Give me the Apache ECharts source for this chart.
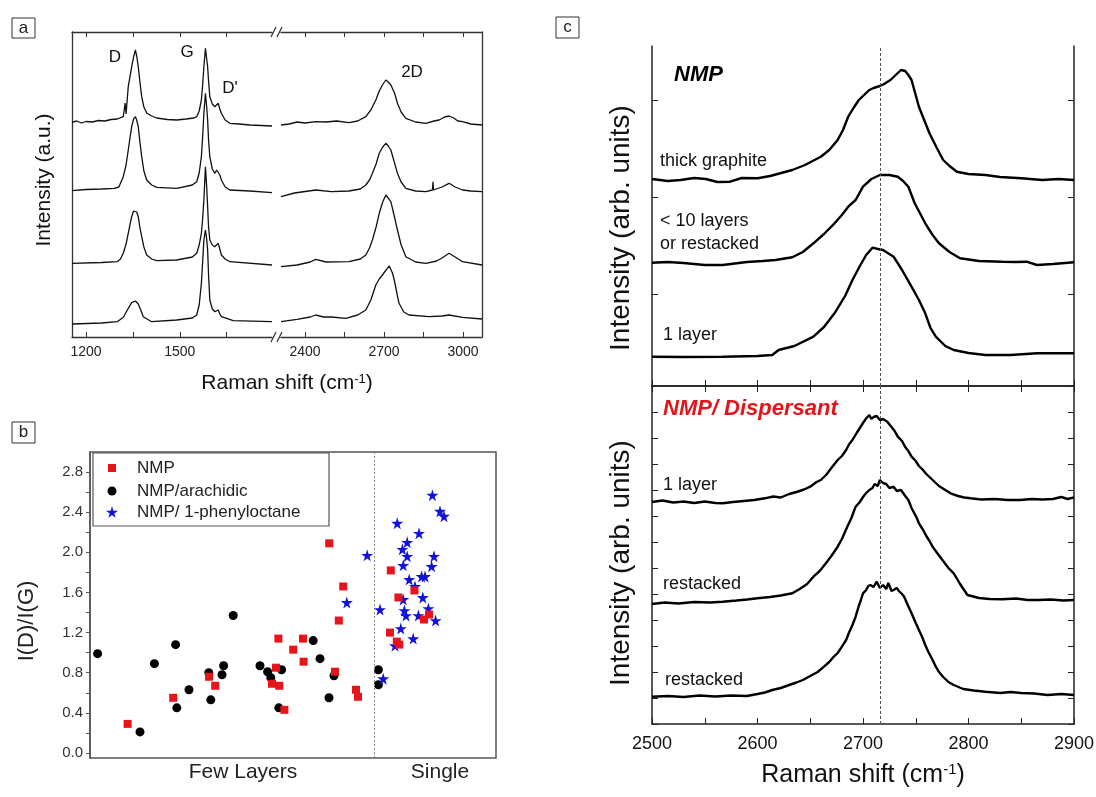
<!DOCTYPE html>
<html><head><meta charset="utf-8">
<script src="https://cdn.jsdelivr.net/npm/echarts@6/dist/echarts.min.js"></script>
<style>html,body{margin:0;padding:0;background:#fff}#c{width:1096px;height:797px}</style>
</head><body><div id="c"></div>
<script>
// ---------- Panel a : Raman spectra (x in cm-1, y arbitrary offset units) ----------
const a1Left = [[1155,214.7],[1170,216],[1185,214],[1200,215.5],[1220,215],[1240,216.5],[1260,216],[1280,217.5],[1300,218],[1319,220.3],[1322,220],[1325,234],[1328,223],[1335,250.3],[1346,270.3],[1352,280],[1358,287],[1362,281],[1367,270.3],[1372,256],[1378,240.3],[1385,230],[1394,224],[1410,221],[1426,219],[1460,217.5],[1490,217],[1520,218],[1545,219],[1554,220.3],[1562,226],[1569,237],[1573,252],[1577,270.3],[1582,288.7],[1586,278],[1589,270.3],[1592,256],[1596,240.3],[1604,233],[1612,230.3],[1618,232],[1623,233.7],[1628,228],[1633,223.7],[1645,217],[1660,213.7],[1690,213],[1724,212],[1760,211.5],[1795,211]];
const a1Right = [[2309,212],[2340,213],[2370,215],[2400,214],[2441,215.3],[2480,215],[2520,216],[2567,214.3],[2600,216],[2631,220.3],[2650,227],[2669,237],[2682,246],[2694,252],[2707,257],[2716,255],[2726,252],[2740,244],[2751,233.7],[2765,225],[2783,218.7],[2820,215],[2859,213.7],[2890,216],[2909,217],[2930,220],[2947,221],[2965,219],[2980,216],[2998,215.3],[3030,213],[3072,212]];
const a2Left = [[1155,146.3],[1200,147.5],[1250,148],[1290,148.7],[1305,150],[1319,160.3],[1328,172],[1335,187],[1341,200],[1346,210.3],[1352,218],[1358,220.3],[1362,217],[1367,210.3],[1372,196],[1378,180.3],[1385,166],[1394,157],[1410,152],[1426,149.7],[1490,148.7],[1540,152],[1554,155.3],[1562,164],[1569,180.3],[1573,200],[1577,223.7],[1582,243.7],[1586,230],[1589,217],[1592,197],[1596,180.3],[1604,168],[1612,163.7],[1618,167],[1623,168.7],[1628,162],[1633,157],[1645,150],[1660,147],[1724,146],[1795,144.3]];
const a2Right = [[2309,140.3],[2360,144],[2441,147],[2500,145.3],[2567,146],[2610,148],[2631,152],[2645,157],[2656,163.7],[2670,173],[2682,183.7],[2695,190],[2707,193.7],[2716,191],[2726,187],[2738,176],[2751,163.7],[2765,155],[2783,148.7],[2820,146],[2859,145.3],[2884,147],[2886,155.3],[2888,147],[2920,150],[2947,153.7],[2970,150],[2998,147],[3030,146],[3072,145.3]];
const a3Left = [[1155,73.7],[1250,74.5],[1300,75.3],[1310,78],[1319,83.7],[1328,93],[1335,103.7],[1341,113],[1346,120.3],[1352,126],[1358,127.7],[1362,125],[1367,120.3],[1372,110],[1378,100.3],[1385,90],[1394,82],[1410,78],[1426,76.3],[1490,77],[1540,80],[1554,83.7],[1562,92],[1569,103.7],[1573,118],[1577,137],[1582,170.3],[1586,150],[1589,130.3],[1592,110],[1596,97],[1604,92],[1612,90.3],[1618,92],[1623,93.7],[1628,88],[1633,82],[1645,78],[1660,75.3],[1795,72]];
const a3Right = [[2309,70.3],[2370,72],[2420,75],[2441,77.7],[2480,75],[2567,75.3],[2610,78],[2631,82],[2645,89],[2656,97],[2670,110],[2682,123.7],[2695,135],[2707,142],[2714,143.7],[2726,135.3],[2738,122],[2751,107],[2765,92],[2783,80.3],[2820,75],[2859,73.7],[2900,76],[2920,79],[2947,83.7],[2970,80],[2998,75.3],[3072,72]];
const a4Left = [[1155,13],[1250,14],[1300,15.3],[1320,20],[1332,27],[1346,34.3],[1358,36],[1367,33],[1375,27],[1383,20.3],[1410,15.3],[1490,17],[1540,19],[1554,22],[1562,32],[1569,53.7],[1573,75],[1577,97],[1582,107],[1586,98],[1589,87],[1592,62],[1596,37],[1604,28],[1612,25.3],[1618,26],[1623,27],[1628,23],[1633,20.3],[1671,16.3],[1795,15.3]];
const a4Right = [[2309,15.3],[2370,17.7],[2420,20],[2441,22],[2470,20],[2500,20],[2555,18.7],[2600,22],[2631,27],[2650,37],[2669,52],[2682,58],[2694,62],[2705,66],[2713,68.7],[2720,71],[2726,70.3],[2732,64],[2739,57],[2748,45],[2757,33.7],[2775,25],[2795,22],[2871,20.3],[2920,21],[2947,22],[2998,19.7],[3072,18]];
const aTicksLeft = [1200,1350,1500,1650];
const aLabelsLeft = [1200,1500];
const aTicksRight = [2400,2550,2700,2850,3000];
const aLabelsRight = [2400,2700,3000];

// ---------- Panel b : I(D)/I(G) scatter (x = sample position, y = ratio) ----------
const bNMP = [[9.4,0.29],[20.8,0.55],[29.75,0.76],[31.3,0.67],[47.1,1.14],[46.5,0.85],[45.5,0.69],[47.3,0.67],[48.6,0.43],[50.8,1.03],[53.25,1.14],[53.4,0.91],[61.25,0.81],[62.2,1.32],[66.5,0.63],[67.0,0.56],[75.0,1.20],[76.7,1.11],[77.3,1.08],[83.5,1.33],[84.75,1.38],[59.8,2.09],[63.3,1.66],[75.2,1.82],[77.1,1.55],[81.1,1.62]];
const bArachidic = [[1.9,0.99],[12.5,0.21],[16.1,0.89],[21.4,1.08],[21.7,0.45],[24.75,0.63],[29.7,0.80],[30.2,0.53],[33.0,0.78],[33.4,0.87],[35.8,1.37],[42.5,0.87],[44.4,0.81],[45.2,0.75],[47.9,0.83],[47.2,0.45],[55.8,1.12],[57.5,0.94],[59.75,0.55],[61.0,0.77],[72.1,0.83],[72.1,0.68]];
const bPhenyl = [[69.3,1.97],[64.2,1.50],[76.8,2.29],[85.6,2.57],[87.5,2.41],[88.5,2.36],[82.25,2.19],[79.3,2.10],[78.1,2.03],[79.3,1.96],[78.3,1.87],[86.0,1.96],[85.4,1.86],[79.8,1.73],[82.9,1.76],[83.75,1.76],[81.25,1.66],[78.3,1.53],[83.2,1.55],[72.5,1.43],[78.6,1.42],[79.0,1.37],[82.1,1.37],[84.6,1.44],[86.4,1.32],[77.7,1.24],[80.8,1.14],[76.25,1.07],[73.3,0.74]];
const bDivider = 71;
const bLabelValues = [0.0,0.4,0.8,1.2,1.6,2.0,2.4,2.8];
const bTickValues = [0.0,0.2,0.4,0.6,0.8,1.0,1.2,1.4,1.6,1.8,2.0,2.2,2.4,2.6,2.8];

// ---------- Panel c : 2D band (x in cm-1, y arbitrary units) ----------
const cThick = [[2500,207],[2515,205],[2527,206],[2540,208],[2551,207],[2562,204],[2574,204.3],[2585,208],[2600,207.7],[2612,210],[2633,216],[2645,221],[2660,229.3],[2668,236],[2676,246],[2681,256],[2686,269.3],[2691,278],[2696,286],[2701,291],[2706,296],[2710,298],[2716,300],[2720,302],[2726,306],[2730,310],[2736,316],[2740,315],[2743,311],[2746,306],[2753,279.3],[2758,266],[2763,252.7],[2770,238],[2776,226],[2782,220],[2789,214.3],[2800,212],[2816,211],[2830,209],[2850,207.7],[2870,206],[2885,207],[2900,206]];
const cFew = [[2500,123.3],[2515,124],[2530,123],[2550,121],[2567,121],[2590,124],[2605,125],[2617,126],[2633,128.7],[2643,134],[2653,142.7],[2663,152],[2673,162.7],[2680,171],[2686,179.3],[2693,186],[2700,199.3],[2708,207],[2716,211],[2725,211],[2733,209.3],[2738,205],[2743,199.3],[2749,182.7],[2759,162.7],[2766,151],[2772,142.7],[2782,134],[2792,127.7],[2810,125],[2832,124.3],[2845,124],[2855,124.3],[2865,121],[2880,122],[2900,123.7]];
const cOne = [[2500,29.3],[2530,29],[2567,29.3],[2600,30],[2614,31],[2620,36],[2635,40],[2653,49.3],[2663,59],[2673,72.7],[2683,90],[2690,106],[2697,120],[2703,131],[2709,138.3],[2714,137],[2719,136],[2729,129.3],[2737,116],[2746,99.3],[2753,86],[2759,72.7],[2764,58],[2769,49.3],[2778,40],[2786,36],[2800,33],[2816,31],[2840,31],[2865,32.7],[2900,32.7]];
const cDisp1 = [[2500,222],[2510,223.5],[2520,221.5],[2530,222.5],[2540,221],[2550,222.5],[2560,221],[2567,220.7],[2577,222],[2587,223],[2597,224],[2607,225.7],[2615,227.5],[2622,226.5],[2630,230],[2637,232],[2644,234.5],[2650,237.3],[2656,242],[2660,244],[2665,249],[2670,256],[2676,264],[2680,268],[2684,274],[2687,280],[2690,284],[2694,291],[2697,296],[2700,301],[2703,305.7],[2706,309],[2708,305],[2710,307],[2713,308],[2716,304],[2719,305],[2723,302.3],[2727,297],[2730,293],[2733,287.3],[2737,283],[2740,277],[2743,273],[2746,267.3],[2750,263],[2753,258],[2756,255],[2760,250],[2766,244],[2772,238],[2778,234],[2783,230.7],[2790,228],[2796,226.5],[2802,225.7],[2812,224.5],[2825,225],[2837,224],[2849,224],[2860,225],[2870,224.5],[2880,225],[2888,227],[2894,225],[2900,226.7]];
const cDisp2 = [[2500,120],[2512,121.5],[2525,120.5],[2540,122],[2555,121.5],[2567,122.3],[2580,123.5],[2590,124.5],[2600,125.7],[2612,127],[2622,128.5],[2633,130.7],[2640,135],[2647,140],[2653,147.3],[2659,153],[2665,161],[2670,168],[2676,177.3],[2680,185],[2685,197],[2689,206],[2693,217.3],[2697,222],[2700,227],[2703,231],[2706,234],[2709,236],[2711,240],[2714,238],[2716,244],[2719,241],[2722,240],[2725,236],[2729,237.3],[2732,233],[2736,234],[2740,228],[2743,224],[2746,216],[2748,212],[2751,206],[2753,200.7],[2757,194],[2760,188],[2763,183],[2766,177.3],[2771,170],[2776,163],[2781,156],[2786,150.7],[2792,140],[2799,129],[2810,126],[2820,125],[2832,124.7],[2845,125.5],[2856,124],[2866,124],[2878,124.5],[2890,123.5],[2900,124]];
const cDisp3 = [[2500,27.3],[2515,28],[2530,27],[2545,28.5],[2560,27.5],[2575,28.5],[2590,28],[2600,30],[2607,31.5],[2614,34],[2622,36],[2630,39],[2637,41.5],[2643,44],[2650,48],[2657,52],[2663,57.3],[2668,62],[2672,67],[2676,71],[2680,77.3],[2684,84],[2687,92],[2690,99],[2693,107.3],[2696,118],[2698,124],[2700,130.7],[2703,134],[2705,138],[2707,139],[2710,137],[2713,142.3],[2716,136],[2719,139],[2722,135],[2724,141],[2727,133],[2729,134],[2732,136],[2734,133],[2737,130],[2739,127.3],[2742,120],[2746,110.7],[2750,101],[2753,94],[2756,87.3],[2759,79],[2762,72],[2766,64],[2769,57.3],[2772,52],[2776,47],[2781,42],[2786,39],[2795,35],[2805,33.5],[2816,32.3],[2830,31],[2840,32],[2850,31],[2862,30.5],[2875,29],[2888,30],[2900,29]];
const cRefLine = 2716;
const cXLabels = [2500,2600,2700,2800,2900];
const cTopTicks = [92,189,286];

const FONT = 'Arial, "Liberation Sans", Helvetica, sans-serif';
const chart = echarts.init(document.getElementById('c'), null, {renderer:'canvas'});
const lineC = '#222';
const plain = v => String(v);

function aLine(data, xi, yi) {
  return {type:'line', data, xAxisIndex:xi, yAxisIndex:yi, showSymbol:false, silent:true,
    lineStyle:{color:'#111', width:1.3}};
}
function cLine(data, xi, yi, extra) {
  return Object.assign({type:'line', data, xAxisIndex:xi, yAxisIndex:yi, showSymbol:false, silent:true,
    lineStyle:{color:'#000', width:2.4}}, extra||{});
}
const refMark = {silent:true, symbol:'none', label:{show:false},
  lineStyle:{color:'#555', type:[3,2], width:1}, data:[{xAxis:cRefLine}]};

const hiddenY = (min,max,pos) => ({type:'value', min, max, position:pos, gridIndex:0,
  axisLine:{show:true, lineStyle:{color:'#333', width:1.3}}, axisTick:{show:false}, axisLabel:{show:false}, splitLine:{show:false}});

const star = 'path://M50,0 L61,35 L98,35 L68,57 L79,91 L50,70 L21,91 L32,57 L2,35 L39,35 Z';

const option = {
  animation:false,
  textStyle:{fontFamily:FONT},
  grid:[
    {left:72, top:32, width:200, height:305, outerBoundsMode:'none'},
    {left:281, top:32, width:201, height:305, outerBoundsMode:'none'},
    {left:90, top:452, width:406, height:306, show:true, borderColor:'#555', borderWidth:1.5, outerBoundsMode:'none'},
    {left:652, top:46, width:422, height:340, outerBoundsMode:'none'},
    {left:652, top:386, width:422, height:338, outerBoundsMode:'none'}
  ],
  xAxis:[
    {gridIndex:0, type:'value', min:1155, max:1795, position:'bottom',
      axisLine:{lineStyle:{color:'#333', width:1.3}}, axisTick:{inside:true, length:5, customValues:aTicksLeft, lineStyle:{color:'#333'}},
      axisLabel:{customValues:aLabelsLeft, formatter:plain, fontSize:14, color:'#222', margin:8, fontFamily:FONT}, splitLine:{show:false}},
    {gridIndex:0, type:'value', min:1155, max:1795, position:'top',
      axisLine:{lineStyle:{color:'#333', width:1.3}}, axisTick:{inside:true, length:5, customValues:aTicksLeft, lineStyle:{color:'#333'}},
      axisLabel:{show:false}, splitLine:{show:false}},
    {gridIndex:1, type:'value', min:2309, max:3072, position:'bottom',
      axisLine:{lineStyle:{color:'#333', width:1.3}}, axisTick:{inside:true, length:5, customValues:aTicksRight, lineStyle:{color:'#333'}},
      axisLabel:{customValues:aLabelsRight, formatter:plain, fontSize:14, color:'#222', margin:8, fontFamily:FONT}, splitLine:{show:false}},
    {gridIndex:1, type:'value', min:2309, max:3072, position:'top',
      axisLine:{lineStyle:{color:'#333', width:1.3}}, axisTick:{inside:true, length:5, customValues:aTicksRight, lineStyle:{color:'#333'}},
      axisLabel:{show:false}, splitLine:{show:false}},
    {gridIndex:2, type:'value', min:0, max:101.5, show:false},
    {gridIndex:3, type:'value', min:2500, max:2900, interval:50, position:'bottom',
      axisLine:{lineStyle:{color:lineC, width:1.5}}, axisTick:{inside:true, length:6, lineStyle:{color:lineC}},
      axisLabel:{show:false}, splitLine:{show:false}},
    {gridIndex:3, type:'value', min:2500, max:2900, interval:50, position:'top',
      axisLine:{lineStyle:{color:lineC, width:1.5}}, axisTick:{inside:true, length:6, lineStyle:{color:lineC}},
      axisLabel:{show:false}, splitLine:{show:false}},
    {gridIndex:4, type:'value', min:2500, max:2900, interval:50, position:'bottom',
      axisLine:{lineStyle:{color:lineC, width:1.5}}, axisTick:{inside:true, length:6, lineStyle:{color:lineC}},
      axisLabel:{customValues:cXLabels, formatter:plain, fontSize:18, color:'#111', margin:11, fontFamily:FONT}, splitLine:{show:false}}
  ],
  yAxis:[
    Object.assign(hiddenY(0,305,'left'), {gridIndex:0}),
    Object.assign(hiddenY(0,305,'right'), {gridIndex:1}),
    {gridIndex:2, type:'value', min:-0.05, max:3.0, position:'left',
      axisLine:{show:true, lineStyle:{color:'#555', width:1.5}},
      axisTick:{show:true, length:4, customValues:bTickValues, lineStyle:{color:'#555'}},
      axisLabel:{customValues:bLabelValues, formatter:v=>v.toFixed(1), fontSize:15, color:'#333', margin:7, fontFamily:FONT},
      splitLine:{show:false}},
    {gridIndex:3, type:'value', min:0, max:340, position:'left',
      axisLine:{show:true, lineStyle:{color:lineC, width:1.5}}, axisTick:{inside:true, length:6, customValues:cTopTicks, lineStyle:{color:lineC}},
      axisLabel:{show:false}, splitLine:{show:false}},
    {gridIndex:3, type:'value', min:0, max:340, position:'right',
      axisLine:{show:true, lineStyle:{color:lineC, width:1.5}}, axisTick:{inside:true, length:6, customValues:cTopTicks, lineStyle:{color:lineC}},
      axisLabel:{show:false}, splitLine:{show:false}},
    {gridIndex:4, type:'value', min:0, max:338, interval:26, position:'left',
      axisLine:{show:true, lineStyle:{color:lineC, width:1.5}}, axisTick:{inside:true, length:6, lineStyle:{color:lineC}},
      axisLabel:{show:false}, splitLine:{show:false}},
    {gridIndex:4, type:'value', min:0, max:338, interval:26, position:'right',
      axisLine:{show:true, lineStyle:{color:lineC, width:1.5}}, axisTick:{inside:true, length:6, lineStyle:{color:lineC}},
      axisLabel:{show:false}, splitLine:{show:false}}
  ],
  legend:[
    {data:[{name:'NMP', icon:'rect'}], left:108, top:458, padding:0, itemWidth:8, itemHeight:8, selectedMode:false,
      textStyle:{fontSize:17, color:'#222', lineHeight:20, padding:[0,0,0,16], fontFamily:FONT}, z:5},
    {data:[{name:'NMP/arachidic', icon:'circle'}], left:107.5, top:481, padding:0, itemWidth:9, itemHeight:9, selectedMode:false,
      textStyle:{fontSize:17, color:'#222', lineHeight:20, padding:[0,0,0,15.5], fontFamily:FONT}, z:5},
    {data:[{name:'NMP/ 1-phenyloctane', icon:star}], left:106, top:502, padding:0, itemWidth:12, itemHeight:12, selectedMode:false,
      textStyle:{fontSize:17, color:'#222', lineHeight:20, padding:[0,0,0,14], fontFamily:FONT}, z:5}
  ],
  series:[
    aLine(a1Left,0,0), aLine(a2Left,0,0), aLine(a3Left,0,0), aLine(a4Left,0,0),
    aLine(a1Right,2,1), aLine(a2Right,2,1), aLine(a3Right,2,1), aLine(a4Right,2,1),
    {type:'scatter', name:'NMP/arachidic', data:bArachidic, xAxisIndex:4, yAxisIndex:2, symbol:'circle', symbolSize:9,
      itemStyle:{color:'#000', opacity:1}, silent:true,
      markLine:{silent:true, symbol:'none', label:{show:false}, lineStyle:{color:'#888', type:[2,2], width:1}, data:[{xAxis:bDivider}]}},
    {type:'scatter', name:'NMP/ 1-phenyloctane', data:bPhenyl, xAxisIndex:4, yAxisIndex:2, symbol:star, symbolSize:12,
      itemStyle:{color:'#1010e0', opacity:1}, silent:true},
    {type:'scatter', name:'NMP', data:bNMP, xAxisIndex:4, yAxisIndex:2, symbol:'rect', symbolSize:8,
      itemStyle:{color:'#e8141c', opacity:1}, silent:true},
    cLine(cThick,5,3,{markLine:refMark}), cLine(cFew,5,3), cLine(cOne,5,3),
    cLine(cDisp1,7,5,{markLine:refMark}), cLine(cDisp2,7,5), cLine(cDisp3,7,5)
  ],
  graphic:[
    {type:'rect', shape:{x:12,y:18,width:23,height:20}, style:{fill:'#fff', stroke:'#333', lineWidth:1}},
    {type:'text', style:{text:'a', x:23.5, y:28, textAlign:'center', textVerticalAlign:'middle', fontSize:17, fontFamily:FONT, fill:'#222'}},
    {type:'rect', shape:{x:12,y:422,width:23,height:21}, style:{fill:'#fff', stroke:'#333', lineWidth:1}},
    {type:'text', style:{text:'b', x:23.5, y:432.5, textAlign:'center', textVerticalAlign:'middle', fontSize:17, fontFamily:FONT, fill:'#222'}},
    {type:'rect', shape:{x:556,y:17,width:23,height:21}, style:{fill:'#fff', stroke:'#333', lineWidth:1}},
    {type:'text', style:{text:'c', x:567.5, y:27.5, textAlign:'center', textVerticalAlign:'middle', fontSize:17, fontFamily:FONT, fill:'#222'}},
    {type:'line', shape:{x1:271,y1:37,x2:276,y2:27}, style:{stroke:'#333', lineWidth:1.2}},
    {type:'line', shape:{x1:277,y1:37,x2:282,y2:27}, style:{stroke:'#333', lineWidth:1.2}},
    {type:'line', shape:{x1:271,y1:342,x2:276,y2:332}, style:{stroke:'#333', lineWidth:1.2}},
    {type:'line', shape:{x1:277,y1:342,x2:282,y2:332}, style:{stroke:'#333', lineWidth:1.2}},
    {type:'text', style:{text:'D', x:115, y:57, textAlign:'center', textVerticalAlign:'middle', fontSize:17, fontFamily:FONT, fill:'#111'}},
    {type:'text', style:{text:'G', x:187, y:52, textAlign:'center', textVerticalAlign:'middle', fontSize:17, fontFamily:FONT, fill:'#111'}},
    {type:'text', style:{text:"D'", x:230, y:88, textAlign:'center', textVerticalAlign:'middle', fontSize:17, fontFamily:FONT, fill:'#111'}},
    {type:'text', style:{text:'2D', x:412, y:72, textAlign:'center', textVerticalAlign:'middle', fontSize:17, fontFamily:FONT, fill:'#111'}},
    {type:'text', x:44, y:180, rotation:Math.PI/2, style:{text:'Intensity (a.u.)', x:0, y:0, textAlign:'center', textVerticalAlign:'middle', fontSize:21, fontFamily:FONT, fill:'#111'}},
    {type:'text', style:{text:'Raman shift (cm{s|-1})', x:287, y:383, textAlign:'center', textVerticalAlign:'middle', fontSize:21, fontFamily:FONT, fill:'#111',
      rich:{s:{fontSize:13, verticalAlign:'top', fontFamily:FONT, fill:'#111'}}}},
    {type:'rect', z:3, shape:{x:93,y:453,width:236,height:73}, style:{fill:'#fff', stroke:'#555', lineWidth:1.2}},
    {type:'text', x:27, y:621, rotation:Math.PI/2, style:{text:'I(D)/I(G)', x:0, y:0, textAlign:'center', textVerticalAlign:'middle', fontSize:22, fontFamily:FONT, fill:'#222'}},
    {type:'text', style:{text:'Few Layers', x:243, y:772, textAlign:'center', textVerticalAlign:'middle', fontSize:21, fontFamily:FONT, fill:'#222'}},
    {type:'text', style:{text:'Single', x:440, y:772, textAlign:'center', textVerticalAlign:'middle', fontSize:21, fontFamily:FONT, fill:'#222'}},
    {type:'text', style:{text:'NMP', x:674, y:75, textVerticalAlign:'middle', fontSize:22, fontWeight:'bold', fontStyle:'italic', fontFamily:FONT, fill:'#000'}},
    {type:'text', style:{text:'thick graphite', x:660, y:161, textVerticalAlign:'middle', fontSize:18, fontFamily:FONT, fill:'#111'}},
    {type:'text', style:{text:'< 10 layers', x:660, y:221, textVerticalAlign:'middle', fontSize:18, fontFamily:FONT, fill:'#111'}},
    {type:'text', style:{text:'or restacked', x:660, y:244, textVerticalAlign:'middle', fontSize:18, fontFamily:FONT, fill:'#111'}},
    {type:'text', style:{text:'1 layer', x:663, y:335, textVerticalAlign:'middle', fontSize:18, fontFamily:FONT, fill:'#111'}},
    {type:'text', style:{text:'NMP/ Dispersant', x:663, y:409, textVerticalAlign:'middle', fontSize:22, fontWeight:'bold', fontStyle:'italic', fontFamily:FONT, fill:'#e3141b'}},
    {type:'text', style:{text:'1 layer', x:663, y:485, textVerticalAlign:'middle', fontSize:18, fontFamily:FONT, fill:'#111'}},
    {type:'text', style:{text:'restacked', x:663, y:584, textVerticalAlign:'middle', fontSize:18, fontFamily:FONT, fill:'#111'}},
    {type:'text', style:{text:'restacked', x:665, y:680, textVerticalAlign:'middle', fontSize:18, fontFamily:FONT, fill:'#111'}},
    {type:'text', x:621, y:228, rotation:Math.PI/2, style:{text:'Intensity (arb. units)', x:0, y:0, textAlign:'center', textVerticalAlign:'middle', fontSize:28, fontFamily:FONT, fill:'#111'}},
    {type:'text', x:621, y:563, rotation:Math.PI/2, style:{text:'Intensity (arb. units)', x:0, y:0, textAlign:'center', textVerticalAlign:'middle', fontSize:28, fontFamily:FONT, fill:'#111'}},
    {type:'text', style:{text:'Raman shift (cm{s|-1})', x:863, y:775, textAlign:'center', textVerticalAlign:'middle', fontSize:25, fontFamily:FONT, fill:'#111',
      rich:{s:{fontSize:15, verticalAlign:'top', fontFamily:FONT, fill:'#111'}}}}
  ]
};
chart.setOption(option);
</script>
</body></html>
